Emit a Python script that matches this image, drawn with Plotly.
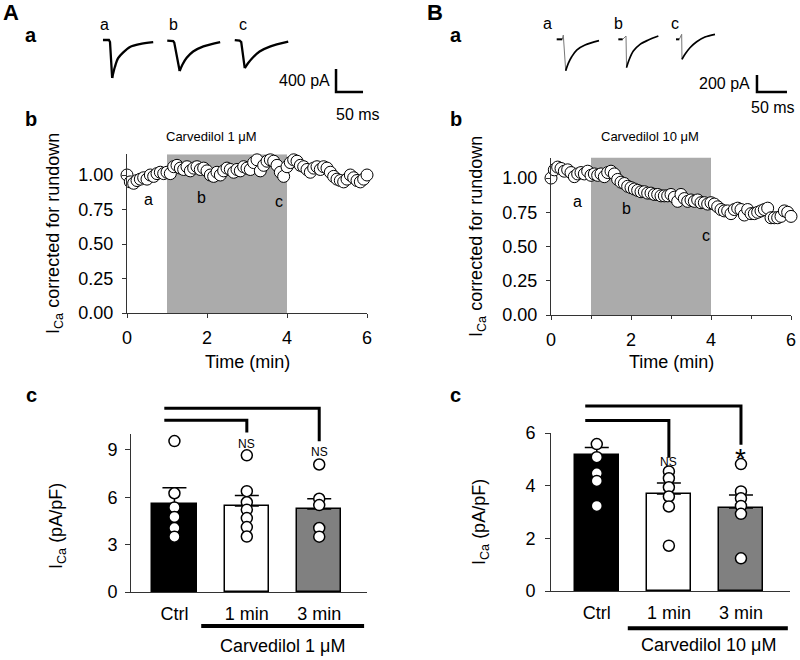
import plotly.graph_objects as go

W, H = 800, 660
FONT = "Arial, 'Liberation Sans', Helvetica, sans-serif"

# ---------------- data ----------------
# Panel a: representative I_Ca sweeps (time in ms from sweep start, current in pA)
AA_T = [0, 11, 13, 17, 22, 28, 38, 50, 68, 93]
AA_I = [0, 0, -35, -660, -470, -315, -210, -120, -70, -35]
AB_T = [0, 11, 13, 23, 28, 36, 48, 67, 98]
AB_I = [-10, -18, -45, -540, -430, -310, -200, -110, -35]
AC_T = [0, 9, 12, 18.5, 24.5, 34, 46, 65, 99]
AC_I = [0, -12, -35, -490, -405, -300, -200, -115, -30]

BA_T = [0, 9.3, 11, 15, 19.3, 25, 33.3, 47.2, 70.5]
BA_I = [0, 0, 50, -369, -282, -205, -126, -67, -16]
BB_T = [0, 7.3, 12.8, 13.7, 18.3, 25, 36.2, 50, 66.7]
BB_I = [0, 0, 39, -333, -235, -138, -59, -8, 39]
BC_T = [0, 5.5, 9.5, 10, 15, 23.3, 34.5, 48.3, 65]
BC_I = [0, 0, 59, -235, -176, -99, -28, 27, 59]

SWEEP_LABELS = ["a", "b", "c"]
A_SCALE_PA, A_SCALE_MS = 400, 50
B_SCALE_PA, B_SCALE_MS = 200, 50

# Panel b: I_Ca corrected for rundown, one sample every 5 s
SAMPLE_S = 5
A_RUNDOWN = [1.00, 0.95, 0.94, 0.96, 0.97, 0.98, 0.97, 1.00, 0.99, 1.01,
             1.02, 1.01, 1.02, 1.01, 1.06, 1.07, 1.05, 1.04, 1.06, 1.03,
             1.05, 1.06, 1.04, 1.05, 1.03, 1.00, 0.99, 1.02, 1.00, 1.03,
             1.05, 1.04, 1.02, 1.04, 1.03, 1.06, 1.05, 1.04, 1.09, 1.11,
             1.03, 1.07, 1.10, 1.11, 1.10, 1.07, 1.02, 0.99, 1.06, 1.09,
             1.11, 1.10, 1.07, 1.06, 1.04, 1.02, 1.05, 1.06, 1.04, 1.06,
             1.05, 1.02, 0.99, 0.97, 0.96, 0.95, 0.97, 1.00, 0.98, 0.96,
             0.95, 0.97, 1.00]
B_RUNDOWN = [1.00, 1.06, 1.08, 1.07, 1.05, 1.06, 1.04, 1.01, 1.03, 1.04,
             1.03, 1.05, 1.02, 1.03, 1.02, 1.03, 1.01, 1.04, 1.05, 1.03,
             0.99, 0.97, 0.96, 0.94, 0.93, 0.92, 0.91, 0.90, 0.90, 0.89,
             0.89, 0.88, 0.88, 0.87, 0.87, 0.87, 0.88, 0.86, 0.83, 0.88,
             0.85, 0.83, 0.84, 0.83, 0.84, 0.82, 0.82, 0.81, 0.82, 0.81,
             0.79, 0.77, 0.76, 0.76, 0.74, 0.77, 0.78, 0.77, 0.73, 0.77,
             0.74, 0.74, 0.75, 0.76, 0.77, 0.78, 0.71, 0.71, 0.71, 0.72,
             0.76, 0.75, 0.72]
DRUG_ON_MIN, DRUG_OFF_MIN = 1, 4
A_DRUG = "Carvedilol 1 μM"
B_DRUG = "Carvedilol 10 μM"

# Panel c: mean, SEM and individual cells (pA/pF)
CATEGORIES = ["Ctrl", "1 min", "3 min"]
A_MEAN = [5.57, 5.44, 5.25]
A_SEM = [1.03, 0.66, 0.65]
A_CTRL = [9.55, 6.25, 5.35, 4.75, 4.05, 3.5]
A_1MIN = [8.65, 6.38, 5.68, 5.21, 4.68, 4.11, 3.51]
A_3MIN = [8.07, 5.9, 5.5, 4.05, 3.5]
B_MEAN = [5.17, 3.68, 3.15]
B_SEM = [0.28, 0.42, 0.50]
B_CTRL = [5.58, 5.08, 4.47, 4.18, 3.23]
B_1MIN = [4.54, 4.28, 3.94, 3.59, 3.21, 1.72]
B_3MIN = [4.82, 3.78, 3.52, 3.23, 2.93, 1.24]
A_SIG = ["NS", "NS"]
B_SIG = ["NS", "*"]

# ---------------- figure ----------------
fig = go.Figure()
AX = {}


def px_x(p):
    return p / W


def px_y(p):
    return 1 - p / H


def to_paper(ax, v):
    d0, d1 = AX[ax]["domain"]
    r0, r1 = AX[ax]["range"]
    return d0 + (v - r0) / (r1 - r0) * (d1 - d0)


def text(t, x, y, size, bold=False, xanchor="center", yanchor="middle", angle=0):
    fig.add_annotation(text=("<b>%s</b>" % t) if bold else t, x=px_x(x), y=px_y(y),
                       xref="paper", yref="paper", showarrow=False, xanchor=xanchor,
                       yanchor=yanchor, textangle=angle,
                       font=dict(size=size, color="black", family=FONT))


# ---- sweep subplots ----
AX["xaxis"] = dict(domain=[px_x(85), px_x(385)], range=[-33.3, 522.2], visible=False, anchor="y")
AX["yaxis"] = dict(domain=[px_y(125), px_y(10)], range=[-1478, 522], visible=False, anchor="x")
AX["xaxis2"] = dict(domain=[px_x(530), px_x(800)], range=[-44.5, 405.5], visible=False, anchor="y2")
AX["yaxis2"] = dict(domain=[px_y(125), px_y(10)], range=[-1008, 345], visible=False, anchor="x2")


def sweep_trace(x, y, xa, ya, color, width, shape="linear"):
    fig.add_trace(go.Scatter(x=x, y=y, mode="lines", xaxis=xa, yaxis=ya,
                             line=dict(color=color, width=width, shape=shape, smoothing=0.9),
                             showlegend=False, hoverinfo="skip"))


A_OFFSETS = [0, 119, 244]
for (t, i), off in zip([(AA_T, AA_I), (AB_T, AB_I), (AC_T, AC_I)], A_OFFSETS):
    k = i.index(min(i))
    tt = [v + off for v in t]
    sweep_trace(tt[:k + 1], i[:k + 1], "x", "y", "black", 2.3)
    sweep_trace(tt[k:], i[k:], "x", "y", "black", 2.3, "spline")

B_OFFSETS = [0, 102.7, 198.8]
for (t, i), off in zip([(BA_T, BA_I), (BB_T, BB_I), (BC_T, BC_I)], B_OFFSETS):
    k = i.index(min(i))
    tt = [v + off for v in t]
    sweep_trace(tt[1:k + 1], i[1:k + 1], "x2", "y2", "#777777", 1)
    sweep_trace(tt[:2], i[:2], "x2", "y2", "black", 2)
    sweep_trace(tt[k:], i[k:], "x2", "y2", "black", 1.7, "spline")

# scale bars
A_SB_X, A_SB_TOP = 431.5, -504
sweep_trace([A_SB_X, A_SB_X, A_SB_X + A_SCALE_MS],
            [A_SB_TOP, A_SB_TOP - A_SCALE_PA, A_SB_TOP - A_SCALE_PA], "x", "y", "black", 2.5)
B_SB_X, B_SB_TOP = 333.8, -420
sweep_trace([B_SB_X, B_SB_X, B_SB_X + B_SCALE_MS],
            [B_SB_TOP, B_SB_TOP - B_SCALE_PA, B_SB_TOP - B_SCALE_PA], "x2", "y2", "black", 2.5)

text("%d pA" % A_SCALE_PA, 332, 81, 16, xanchor="right")
text("%d ms" % A_SCALE_MS, 358, 114, 16)
text("%d pA" % B_SCALE_PA, 752, 84, 16, xanchor="right")
text("%d ms" % B_SCALE_MS, 773, 107, 16)

for lab, x in zip(SWEEP_LABELS, [104, 173, 243]):
    text(lab, x, 24, 16)
for lab, x in zip(SWEEP_LABELS, [547, 618, 675]):
    text(lab, x, 23, 16)

# ---- time-course subplots ----
tick_font = dict(size=18, color="black", family=FONT)


def tc_axes(n, x0, x1, ytop, ybot, minor):
    xa = dict(domain=[px_x(x0), px_x(x1)], range=[0, 6], anchor="y%d" % n,
              showline=True, linecolor="#333", linewidth=1, ticks="outside", ticklen=4,
              tickcolor="#333", tick0=0, dtick=2, tickfont=tick_font, showgrid=False,
              zeroline=False, ticklabelstandoff=4, automargin=False)
    if minor:
        xa["minor"] = dict(ticks="outside", ticklen=3, dtick=1, tick0=0, tickcolor="#333")
    ya = dict(domain=[px_y(ybot), px_y(ytop)], range=[0, 1.15], anchor="x%d" % n,
              showline=True, linecolor="#333", linewidth=1, ticks="outside", ticklen=4,
              tickcolor="#333", tickvals=[0, 0.25, 0.5, 0.75, 1.0], tickformat=".2f",
              tickfont=tick_font, showgrid=False, zeroline=False, ticklabelstandoff=5,
              automargin=False)
    AX["xaxis%d" % n] = xa
    AX["yaxis%d" % n] = ya


tc_axes(3, 127, 367, 154.3, 313, False)
tc_axes(4, 551, 791, 157.5, 315, True)

for n, vals in [(3, A_RUNDOWN), (4, B_RUNDOWN)]:
    tmin = [k * SAMPLE_S / 60 for k in range(len(vals))]
    fig.add_shape(type="rect", xref="x%d" % n, yref="y%d" % n, x0=DRUG_ON_MIN, x1=DRUG_OFF_MIN,
                  y0=0, y1=1.15, fillcolor="#ababab", line=dict(width=0), layer="below")
    fig.add_trace(go.Scatter(x=tmin, y=vals, mode="markers", xaxis="x%d" % n, yaxis="y%d" % n,
                             marker=dict(size=12, color="white", line=dict(color="black", width=1)),
                             cliponaxis=False, showlegend=False, hoverinfo="skip"))

A_MARK = [(0.53, 0.82), (1.87, 0.84), (3.8, 0.81)]
B_MARK = [(0.67, 0.83), (1.88, 0.78), (3.87, 0.58)]
for n, marks in [(3, A_MARK), (4, B_MARK)]:
    for lab, (mx, my) in zip(SWEEP_LABELS, marks):
        fig.add_annotation(text=lab, x=mx, y=my, xref="x%d" % n, yref="y%d" % n, showarrow=False,
                           font=dict(size=16, color="black", family=FONT))

text(A_DRUG, 211, 136, 13)
text(B_DRUG, 650, 137, 13)
text("Time (min)", 247, 362, 18)
text("Time (min)", 671, 362, 18)
text("I<sub>Ca</sub> corrected for rundown", 55, 234, 18, angle=-90)
text("I<sub>Ca</sub> corrected for rundown", 477, 236, 18, angle=-90)

# ---- bar subplots ----
BAR_COLORS = ["black", "white", "#808080"]


def bar_axes(n, x0, x1, xr, ytop, ybot, yr, yticks, standoff):
    AX["xaxis%d" % n] = dict(domain=[px_x(x0), px_x(x1)], range=xr, anchor="y%d" % n,
                             showline=True, linecolor="#333", linewidth=1, ticks="",
                             tickvals=[0, 1, 2], ticktext=CATEGORIES, tickfont=tick_font,
                             showgrid=False, zeroline=False, ticklabelstandoff=5,
                             automargin=False)
    AX["yaxis%d" % n] = dict(domain=[px_y(ybot), px_y(ytop)], range=yr, anchor="x%d" % n,
                             showline=True, linecolor="#333", linewidth=1, ticks="outside",
                             ticklen=5, tickcolor="#333", tickvals=yticks, tickfont=tick_font,
                             showgrid=False, zeroline=False, ticklabelstandoff=standoff,
                             automargin=False)


bar_axes(5, 131, 367, [-0.6, 2.66], 434, 592, [0, 10], [0, 3, 6, 9], 4)
bar_axes(6, 551, 790, [-0.635, 2.68], 433, 591, [0, 6], [0, 2, 4, 6], 6)

for n, mean, sem, pts in [(5, A_MEAN, A_SEM, [A_CTRL, A_1MIN, A_3MIN]),
                          (6, B_MEAN, B_SEM, [B_CTRL, B_1MIN, B_3MIN])]:
    fig.add_trace(go.Bar(x=[0, 1, 2], y=mean, width=0.61, xaxis="x%d" % n, yaxis="y%d" % n,
                         marker=dict(color=BAR_COLORS, line=dict(color="black", width=1.5)),
                         error_y=dict(type="data", array=sem, arrayminus=[0, 0, 0], symmetric=False,
                                      color="black", thickness=1.5, width=12),
                         showlegend=False, hoverinfo="skip"))
    for idx, vals in enumerate(pts):
        fig.add_trace(go.Scatter(x=[idx] * len(vals), y=vals, mode="markers",
                                 xaxis="x%d" % n, yaxis="y%d" % n, cliponaxis=False,
                                 marker=dict(size=11, color="white", line=dict(color="black", width=1.5)),
                                 showlegend=False, hoverinfo="skip"))


def bracket(n, xl, xr_, yh, yend):
    xa, ya = "xaxis%d" % n, "yaxis%d" % n
    px0, px1 = to_paper(xa, xl), to_paper(xa, xr_)
    py0, py1 = to_paper(ya, yh), to_paper(ya, yend)
    fig.add_shape(type="path", xref="paper", yref="paper",
                  path="M %f,%f L %f,%f L %f,%f" % (px0, py0, px1, py0, px1, py1),
                  line=dict(color="black", width=3))


def hline(n, xl, xr_, y, w):
    xa, ya = "xaxis%d" % n, "yaxis%d" % n
    fig.add_shape(type="line", xref="paper", yref="paper", x0=to_paper(xa, xl), x1=to_paper(xa, xr_),
                  y0=to_paper(ya, y), y1=to_paper(ya, y), line=dict(color="black", width=w))


bracket(5, -0.14, 2, 11.63, 9.54)
bracket(5, -0.14, 1, 10.87, 10.1)
bracket(6, -0.16, 2, 7.03, 5.55)
bracket(6, -0.16, 1, 6.47, 5.06)
hline(5, 0.37, 2.62, -2.15, 4)
hline(6, 0.43, 2.65, -1.41, 4)

for n, labs, ys, sizes in [(5, A_SIG, [9.35, 8.84], [12, 12]), (6, B_SIG, [4.9, 5.02], [12, 28])]:
    for idx, (lab, yy, sz) in enumerate(zip(labs, ys, sizes)):
        fig.add_annotation(text=lab, x=idx + 1, y=yy, xref="x%d" % n, yref="y%d" % n,
                           showarrow=False, font=dict(size=sz, color="black", family=FONT))

for n, label, cx, cy in [(5, A_DRUG, 1.49, -3.4), (6, B_DRUG, 1.55, -2.05)]:
    fig.add_annotation(text=label, x=to_paper("xaxis%d" % n, cx), y=to_paper("yaxis%d" % n, cy),
                       xref="paper", yref="paper", showarrow=False, xanchor="center",
                       yanchor="middle", font=dict(size=18, color="black", family=FONT))
text("I<sub>Ca</sub> (pA/pF)", 57, 526, 18, angle=-90)
text("I<sub>Ca</sub> (pA/pF)", 480, 522, 18, angle=-90)

# ---- panel letters ----
text("A", 11, 13, 22, bold=True)
text("B", 435, 13, 22, bold=True)
for x in [31, 456]:
    text("a", x, 35, 20, bold=True)
    text("b", x, 119, 20, bold=True)
    text("c", x, 395, 20, bold=True)

fig.update_layout(template="none", width=W, height=H,
                  margin=dict(l=0, r=0, t=0, b=0, pad=0, autoexpand=False),
                  paper_bgcolor="white", plot_bgcolor="rgba(0,0,0,0)",
                  font=dict(family=FONT, color="black"), showlegend=False, bargap=0, **AX)

fig.write_html("out.html", config={"displayModeBar": False},
               post_script="document.body.style.margin='0px';")
